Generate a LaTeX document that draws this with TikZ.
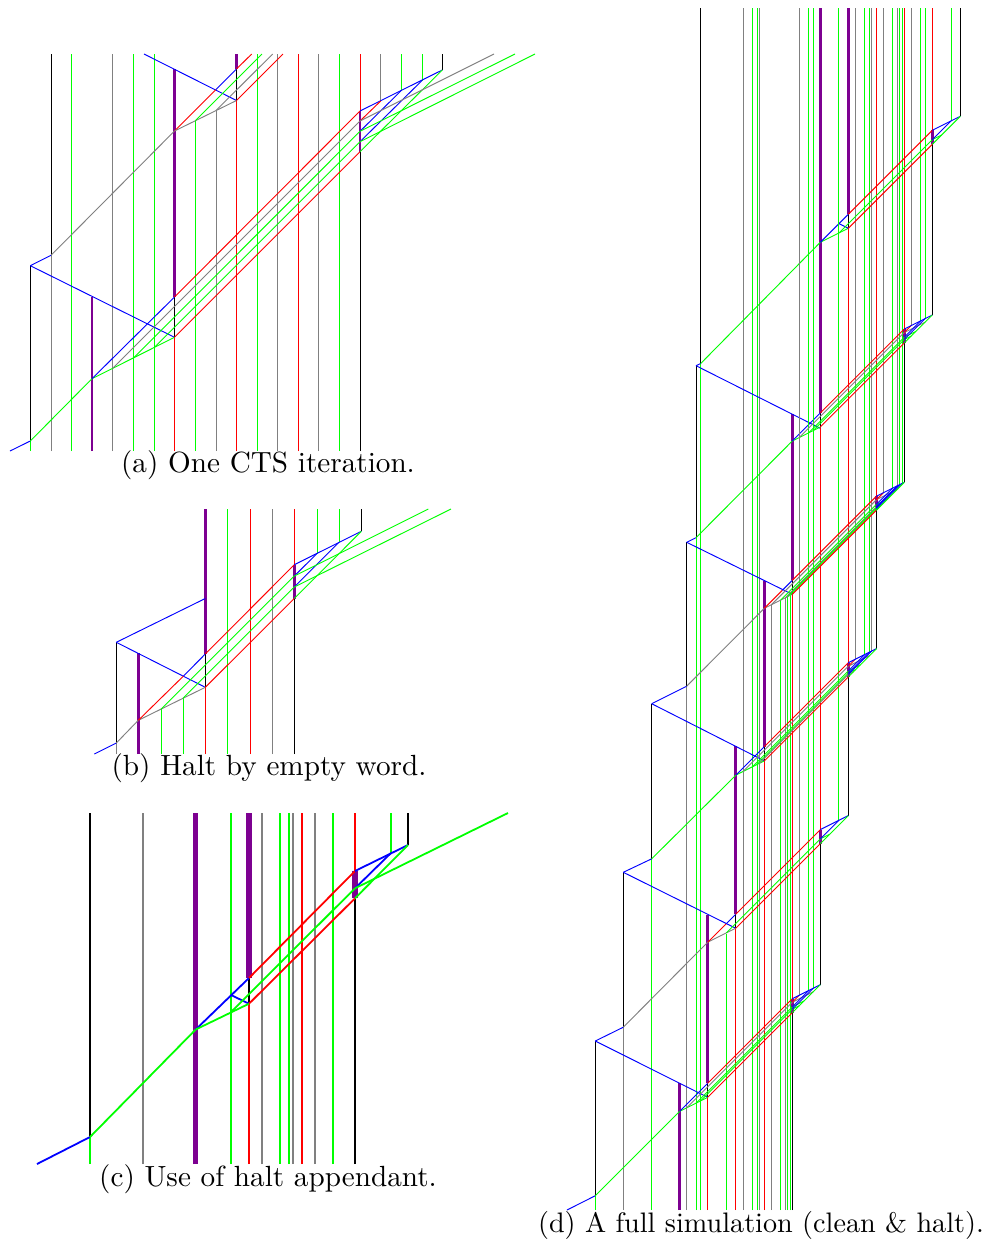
\documentclass[tikz,border=0pt]{standalone}
\definecolor{pur}{RGB}{125,0,145}
\newcommand\lw{.47pt}
\newcommand\lpw{1.2pt}
\newcommand\captxt[2]{\scalebox{#1}{\fontsize{10}{12}\selectfont #2}}
\tikzset{
 lg/.style={line width=\lw,green},
 lr/.style={line width=\lw,red},
 lb/.style={line width=\lw,blue},
 lgr/.style={line width=\lw,gray},
 lk/.style={line width=\lw,black},
 lp/.style={line width=\lpw,pur},
 captext/.style={inner sep=0pt,anchor=base}
}
% one iteration of panel (d): A x, A y, w, d, list of offset/colour/fan colour
\newcommand\iter[5]{%
 \pgfmathsetmacro\ex{#1+#3+#4}%
 \pgfmathsetmacro\bxx{#1+#3}%
 \pgfmathsetmacro\tyy{#2-#3}%
 \pgfmathsetmacro\byy{#2-#3/2}%
 \pgfmathsetmacro\ety{\tyy-#4}%
 \pgfmathsetmacro\eby{\byy-#4}%
 \foreach \oo/\cc/\ff in {#5}{%
  \pgfmathsetmacro\sy{#2-\oo/2}%
  \pgfmathsetmacro\ix{#1+\oo}%
  \pgfmathsetmacro\ey{\sy-(\ex-\ix)}%
  \pgfmathsetmacro\hx{\ex+\oo}%
  \pgfmathsetmacro\hy{\ety-\oo/2}%
  \pgfmathsetmacro\stb{2*(\eby-\ey)}%
  \pgfmathsetmacro\stx{\ex+\stb}%
  \pgfmathsetmacro\sty{\ey-\stb/2}%
  \draw[\cc] (\ix,\sy)--(\ex,\ey);
  \draw[\cc] (\hx,\hy)--(\hx,8);
  \draw[\cc] (\ex,\ey)--(\stx,\sty);
  \draw[\ff] (\ex,\ey)--(\hx,\hy);
 }%
 \pgfmathsetmacro\hex{\ex+#3}%
 \pgfmathsetmacro\hey{\ety-#3/2}%
 \draw[lr] (\bxx,\tyy)--(\ex,\ety);
 \draw[lr] (\bxx,\byy)--(\ex,\eby);
 \draw[lb] (\ex,\ety)--(\hex,\hey);
 \draw[lg] (\ex,\eby)--(\hex,\hey);
}
\begin{document}
\begin{tikzpicture}[x=.5pt,y=-.5pt]
\useasboundingbox (0,0) rectangle (996,1243);
% ---------- (a)
\foreach \x/\s/\a/\b in {
 30.3/lg/451/441, 30.3/lk/441/265.7, 51/lgr/451/255.3, 51/lk/255.3/54,
 71.5/lg/451/54, 92/lp/451/297, 112.7/lgr/451/54, 133.5/lg/451/54, 154/lg/451/54,
 174.5/lr/451/337.3, 174.5/lk/337.3/297, 174.5/lp/297/69,
 195.5/lg/451/120.5, 216/lgr/451/110.5,
 236.5/lr/451/100.5, 236.5/lk/100.5/69, 236.5/lp/69/54,
 257/lg/451/54, 277.5/lgr/451/54, 298.2/lr/451/54, 318.7/lgr/451/54, 339.3/lg/451/54,
 360/lk/451/151.7, 360/lp/151.7/111, 360/lr/111/54,
 380.7/lgr/101/54, 401.3/lg/90.5/54, 422/lg/80.5/54, 442.3/lk/70/54}
 {\draw[\s] (\x,\a)--(\x,\b);}
\draw[lb] (10,451)--(30.3,441);
\draw[lg] (30.3,441)--(92,378.7);
\draw[lb] (30.3,265.7)--(51,255.3);
\draw[lb] (30.3,265.7)--(174.5,337.3);
\draw[lgr] (51,255.3)--(174.5,131);
\draw[lg] (92,378.7)--(174.5,337.3);
\draw[lb] (92,378.7)--(174.5,297);
\draw[lgr] (112.7,368.3)--(360,121);
\draw[lg] (133.5,358)--(360,131.3);
\draw[lg] (154,347.7)--(360,141.7);
\draw[lr] (174.5,337.3)--(360,151.7);
\draw[lr] (174.5,297)--(360,111);
\draw[lb] (360,111)--(442.3,70);
\draw[lr] (360,121)--(380.7,101);
\draw[lb] (360,131.3)--(401.3,90.5);
\draw[lb] (360,141.7)--(422,80.5);
\draw[lg] (360,151.7)--(442.3,70);
\draw[lgr] (360,121)--(494,54);
\draw[lg] (360,131.3)--(515,54);
\draw[lg] (360,141.7)--(535,54);
\draw[lb] (144,54)--(236.5,100.5);
\draw[lr] (174.5,131)--(216,89.5);
\draw[lb] (216,89.5)--(236.5,69);
\draw[lr] (236.5,69)--(251.7,54);
\draw[lgr] (174.5,131)--(236.5,100.5);
\draw[lg] (195.5,120.5)--(262,54);
\draw[lgr] (216,110.5)--(272.7,54);
\draw[lr] (236.5,100.5)--(283,54);
\node[captext] (capa) at (268,472) {\captxt{1.46}{(a) One CTS iteration.}};
% ---------- (b)
\foreach \x/\s/\a/\b in {
 116.3/lgr/754/743, 116.3/lk/743/642.3, 138.3/lp/754/653.3,
 161/lg/754/709.3, 183/lg/754/698.3,
 205.3/lr/754/687.3, 205.3/lk/687.3/654, 205.3/lp/654/509,
 227.7/lg/754/509, 250/lr/754/509, 272/lgr/754/509,
 294.3/lk/754/598.5, 294.3/lp/598.5/564.7, 294.3/lr/564.7/509,
 317/lg/553.5/509, 339/lg/542.3/509, 361.3/lk/531.3/509}
 {\draw[\s] (\x,\a)--(\x,\b);}
\draw[lb] (94.3,754)--(116.3,743);
\draw[lgr] (116.3,743)--(138.3,720.3);
\draw[lb] (116.3,642.3)--(205.3,687.3);
\draw[lb] (116.3,642.3)--(205.3,598.5);
\draw[lgr] (138.3,720.3)--(205.3,687.3);
\draw[lr] (138.3,720.3)--(183.5,676);
\draw[lb] (183.5,676)--(205.3,654);
\draw[lr] (205.3,654)--(294.3,564.7);
\draw[lg] (161,709.3)--(294.3,576);
\draw[lg] (183,698.3)--(294.3,587);
\draw[lr] (205.3,687.3)--(294.3,598.5);
\draw[lb] (294.3,564.7)--(361.3,531.3);
\draw[lb] (294.3,576)--(317,553.5);
\draw[lb] (294.3,587)--(339,542.3);
\draw[lg] (294.3,598.5)--(361.3,531.3);
\draw[lg] (294.3,576)--(428.3,509);
\draw[lg] (294.3,587)--(451,509);
\node[captext] (capb) at (269,775) {\captxt{1.46}{(b) Halt by empty word.}};
% ---------- (c)
\begin{scope}
\renewcommand\lw{.9pt}
\renewcommand\lpw{2.7pt}
\foreach \x/\s/\a/\b in {
 90/lg/1164/1137, 90/lk/1137/813, 142.7/lgr/1164/813, 195.7/lp/1164/813,
 231/lg/1164/813,
 249/lr/1164/1003.7, 249/lk/1003.7/978, 249/lp/978/813,
 262.3/lgr/1164/813, 280/lg/1164/813, 288.7/lg/1164/813, 293/lgr/1164/813,
 302/lr/1164/813, 315.3/lgr/1164/813, 333/lg/1164/813,
 355/lk/1164/898.3, 355/lp/898.3/871, 355/lr/871/813,
 390.7/lg/853.3/813, 408/lk/845/813}
 {\draw[\s] (\x,\a)--(\x,\b);}
\draw[lb] (37,1164)--(90,1137);
\draw[lg] (90,1137)--(195.7,1029.5);
\draw[lb] (195.7,1029.5)--(249,978);
\draw[lb] (231,995)--(249,1003.7);
\draw[lg] (195.7,1029.5)--(249,1003.7);
\draw[lg] (231,1012)--(355,888.3);
\draw[lr] (249,978)--(355,871);
\draw[lr] (249,1003.7)--(355,898.3);
\draw[lb] (355,871)--(408,845);
\draw[lb] (355,888.3)--(390.7,853.3);
\draw[lg] (355,898.3)--(408,845);
\draw[lg] (355,888.3)--(508,813);
\node[captext] (capc) at (268,1186) {\captxt{1.46}{(c) Use of halt appendant.}};
\end{scope}
% ---------- (d)
\renewcommand\lpw{1.35pt}
\foreach \x/\s/\a/\b in {
 595.3/lg/1210/1195.7, 595.3/lk/1195.7/1041,
 623.3/lgr/1210/1027.2, 623.3/lk/1027.2/872.3,
 651.7/lg/1210/858.8, 651.7/lk/858.8/703.7,
 679.3/lp/1210/1083,
 686.7/lgr/1210/686.2, 686.7/lk/686.2/542.3,
 696/lg/1210/537.7, 696/lk/537.7/365.7,
 700.7/lg/1210/363.5, 700.7/lk/363.5/8,
 707.7/lr/1210/1097.3, 707.7/lk/1097.3/1083.3, 707.7/lp/1083.3/915,
 726.3/lg/1210/933.5,
 735.7/lr/1210/928.2, 735.7/lk/928.2/914.2, 735.7/lp/914.2/746,
 743/lgr/1210/8, 752.3/lg/1210/8, 757/lg/1210/8, 759.3/lgr/1210/8,
 764.3/lr/1210/760.85, 764.3/lk/760.85/746.7, 764.3/lp/746.7/581,
 771.3/lgr/1210/604.8, 780.7/lg/1210/600.1, 785.3/lgr/1210/597.8, 787.7/lg/1210/596.6, 790/lg/1210/595.8,
 792.3/lk/1210/1012.7, 792.3/lp/1012.7/998.7, 792.3/lr/998.7/594.3, 792.3/lk/594.3/580.3, 792.3/lp/580.3/413.5,
 820.3/lk/984.7/843.6, 820.3/lp/843.6/829.6, 820.3/lr/829.6/427, 820.3/lk/427/413, 820.3/lp/413/8,
 848.3/lk/815.6/676.85, 848.3/lp/676.85/662.7, 848.3/lr/662.7/228.3, 848.3/lk/228.3/214.3, 848.3/lp/214.3/8,
 876.3/lk/648.5/510.3, 876.3/lp/510.3/496.3, 876.3/lr/496.3/8,
 904.3/lk/482.3/343, 904.3/lp/343/329, 904.3/lr/329/8,
 932.3/lk/315/144.1, 932.3/lp/144.1/130.1, 932.3/lr/130.1/8,
 960.5/lk/116/8}
 {\draw[\s] (\x,\a)--(\x,\b);}
% left chain
\draw[lb] (567,1210)--(595.3,1195.7);
\draw[lg] (595.3,1195.7)--(679.7,1111.3);
\draw[lb] (595.3,1041)--(623.3,1027.2);
\draw[lb] (595.3,1041)--(707.7,1097.3);
\draw[lgr] (623.3,1027.2)--(707.7,942.2);
\draw[lb] (623.3,872.3)--(651.7,858.8);
\draw[lb] (623.3,872.3)--(735.7,928.2);
\draw[lg] (651.7,858.8)--(736,775);
\draw[lb] (651.7,703.7)--(686.7,686.2);
\draw[lb] (651.7,703.7)--(764.3,760.85);
\draw[lgr] (686.7,686.2)--(764.3,608.3);
\draw[lb] (686.7,542.3)--(696,537.7);
\draw[lb] (686.7,542.3)--(792.3,594.3);
\draw[lg] (696,537.7)--(792.3,441);
\draw[lb] (696,365.7)--(700.7,363.5);
\draw[lb] (696,365.7)--(820.3,428.3);
\draw[lg] (700.7,363.5)--(820.3,242.3);
% fans
\draw[lg] (679.7,1111.3)--(707.7,1097.3);
\draw[lb] (679.7,1111.3)--(707.7,1083.3);
\draw[lgr] (707.7,942.2)--(735.7,928.2);
\draw[lr] (707.7,942.2)--(726.2,923.7);
\draw[lb] (726.2,923.7)--(735.7,914.2);
\draw[lg] (736,775)--(764.3,760.85);
\draw[lb] (736,775)--(764.3,746.7);
\draw[lgr] (764.3,608.3)--(792.3,594.3);
\draw[lr] (764.3,608.3)--(782.4,590.2);
\draw[lb] (782.4,590.2)--(792.3,580.3);
\draw[lg] (792.3,441)--(820.3,427);
\draw[lb] (792.3,441)--(820.3,413);
\draw[lg] (820.3,242.3)--(848.3,228.3);
\draw[lb] (820.3,242.3)--(848.3,214.3);
\draw[lb] (839,223.6)--(848.3,228.3);
% bands and heads
\iter{679.7}{1111.3}{28}{84.6}{7/lgr/lr,16.3/lg/lb,21/lg/lb}
\iter{707.7}{942.2}{28}{84.6}{18.6/lg/lb}
\iter{736}{775}{28.3}{84}{7/lgr/lr,16.3/lg/lb,21/lg/lb,23.3/lgr/lb}
\iter{764.3}{608.3}{28}{84}{7/lgr/lr,16.4/lg/lb,21/lgr/lb,23.4/lg/lb,25.7/lg/lb}
\iter{792.3}{441}{28}{84}{7/lgr/lr,16.3/lg/lb,21/lg/lb}
\iter{820.3}{242.3}{28}{84}{18.7/lg/lb}
\node[captext] (capd) at (761,1232) {\captxt{1.41}{(d) A full simulation (clean \& halt).}};
\end{tikzpicture}
\end{document}
